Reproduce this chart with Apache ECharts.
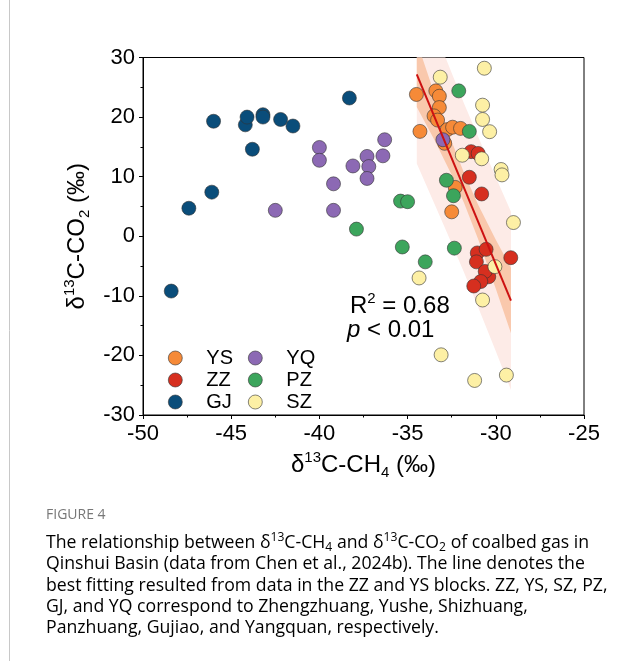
<!DOCTYPE html>
<html><head><meta charset="utf-8">
<script src="https://cdn.jsdelivr.net/npm/echarts@6/dist/echarts.min.js"></script>
<style>html,body{margin:0;padding:0;background:#fff}#c{width:641px;height:661px}</style>
</head><body><div id="c"></div>
<script>
// ---- data ----
const YS = [[-34.5,23.8],[-33.4,24.4],[-33.2,23.5],[-33.2,21.6],[-33.5,20.2],[-33.3,19.5],[-34.3,17.6],[-32.75,17.9],[-32.45,18.3],[-32.0,18.1],[-32.9,15.6],[-32.3,8.2],[-32.5,4.1]];
const ZZ = [[-31.4,14.2],[-31.0,13.9],[-31.5,9.9],[-30.8,7.1],[-31.05,-2.8],[-30.55,-2.2],[-31.1,-4.3],[-29.15,-3.6],[-30.4,-6.8],[-30.6,-5.9],[-30.85,-7.6],[-31.25,-8.35]];
const GJ = [[-48.4,-9.2],[-47.4,4.7],[-46.1,7.4],[-46.0,19.3],[-44.2,18.7],[-44.1,20.0],[-43.8,14.6],[-43.2,20.4],[-43.2,20.0],[-42.2,19.6],[-41.5,18.5],[-38.3,23.2]];
const YQ = [[-40.0,14.9],[-40.0,12.75],[-39.2,8.8],[-39.2,4.35],[-42.5,4.35],[-38.1,11.8],[-37.3,13.4],[-37.2,11.7],[-37.3,9.7],[-36.3,16.2],[-36.4,13.5],[-33.0,16.2]];
const PZ = [[-37.9,1.2],[-32.1,24.4],[-31.5,17.6],[-32.8,9.4],[-32.4,6.8],[-35.4,5.9],[-35.0,5.8],[-35.3,-1.8],[-34.0,-4.3],[-32.35,-2.0]];
const SZ = [[-30.65,28.2],[-33.15,26.7],[-30.75,22.0],[-30.75,19.6],[-30.35,17.55],[-31.9,13.6],[-30.8,13.0],[-29.7,11.2],[-29.65,10.3],[-29.0,2.3],[-30.05,-5.1],[-34.35,-7.0],[-30.75,-10.7],[-33.1,-19.9],[-31.2,-24.2],[-29.4,-23.3]];
const fitX = [-34.48, -29.14];
const fitY = [27.18, -10.82];
const bandX    = [-34.48, -33.5, -32.5, -31.8, -31.0, -30.0, -29.14];
const confLow  = [21.7, 16.3, 10.3, 5.6, -0.5, -8.8, -16.3];
const confHigh = [32.7, 24.1, 15.9, 10.6, 5.3, -0.6, -5.3];
const predLow  = [12.2, 5.6, -1.2, -6.1, -11.9, -19.3, -25.8];
const predHigh = [42.2, 34.8, 27.4, 22.3, 16.7, 9.9, 4.1];
const groupNames = ['YS','ZZ','GJ','YQ','PZ','SZ'];
const xTicks = {min:-50, max:-25, step:5};
const yTicks = {min:-30, max:30, step:10};

// ---- styling ----
const colors = {YS:'#F68A38', ZZ:'#D62F1F', GJ:'#0A4D7A', YQ:'#8C69B4', PZ:'#3CA55C', SZ:'#FDF0A5'};
const groups = {YS, ZZ, GJ, YQ, PZ, SZ};
const FF = 'Liberation Sans, Arial, sans-serif';
const CF = 'Open Sans, Lato, sans-serif';

const chart = echarts.init(document.getElementById('c'), null, {renderer:'canvas'});

function band(low, high, color) {
  return {
    type:'custom', clip:true, z:1, silent:true,
    data:[[bandX[0], low[0]]],
    renderItem:(params, api) => {
      const pts = [];
      for (let i=0;i<bandX.length;i++) pts.push(api.coord([bandX[i], high[i]]));
      for (let i=bandX.length-1;i>=0;i--) pts.push(api.coord([bandX[i], low[i]]));
      return {type:'polygon', shape:{points:pts}, style:{fill:color}};
    }
  };
}

const richAxis = {
  m:{fontSize:24, fontFamily:FF, color:'#000', lineHeight:30},
  sup:{fontSize:15, fontFamily:FF, color:'#000', lineHeight:21.5, verticalAlign:'top'},
  sub:{fontSize:15, fontFamily:FF, color:'#000', lineHeight:4, verticalAlign:'bottom'}
};

const markerStyle = n => ({color:colors[n], borderColor:'#333', borderWidth:0.6, opacity:1});

const scatterSeries = groupNames.map(n => ({
  name:n, type:'scatter', z:2, data:groups[n], symbol:'circle', symbolSize:14,
  itemStyle:markerStyle(n),
  emphasis:{disabled:true}
}));

const legendCommon = {
  orient:'vertical', itemWidth:14, itemHeight:14, itemGap:2,
  textStyle:{fontSize:20, fontFamily:FF, color:'#000', lineHeight:20, padding:[0,0,0,19]},
  selectedMode:false
};
const legendData = names => names.map(n => ({name:n, icon:'circle', itemStyle:markerStyle(n)}));

const capT = {fontSize:17.5, fontFamily:CF, color:'#666', lineHeight:22};
const capSup = {fontSize:12, fontFamily:CF, color:'#666', lineHeight:16, verticalAlign:'top'};
const capSub = {fontSize:12, fontFamily:CF, color:'#666', lineHeight:6, verticalAlign:'bottom'};
const capLines = [
  '{t|The relationship between δ}{sup|13}{t|C-CH}{sub|4}{t| and δ}{sup|13}{t|C-CO}{sub|2}{t| of coalbed gas in}',
  '{t|Qinshui Basin (data from }{l|Chen et al., 2024b}{t|). The line denotes the}',
  '{t|best fitting resulted from data in the ZZ and YS blocks. ZZ, YS, SZ, PZ,}',
  '{t|GJ, and YQ correspond to Zhengzhuang, Yushe, Shizhuang,}',
  '{t|Panzhuang, Gujiao, and Yangquan, respectively.}'
];

const graphics = [
  {type:'line', shape:{x1:9.5,y1:0,x2:9.5,y2:661}, style:{stroke:'#c8c8c8', lineWidth:1}, silent:true},
  {type:'text', x:350, y:291, z:10, style:{text:'{a|R}{s|2}{a| = 0.68}', verticalAlign:'top',
    rich:{a:{fontSize:24,fontFamily:FF,color:'#000',lineHeight:30}, s:{fontSize:15,fontFamily:FF,color:'#000',lineHeight:21.5,verticalAlign:'top'}}}},
  {type:'text', x:347, y:315, z:10, style:{text:'{i|p}{a| < 0.01}', verticalAlign:'top',
    rich:{a:{fontSize:24,fontFamily:FF,color:'#000',lineHeight:30}, i:{fontSize:24,fontFamily:FF,fontStyle:'italic',color:'#000',lineHeight:30}}}},
  {type:'text', x:46, y:515, style:{text:'FIGURE 4', fontSize:14, fontFamily:CF, fill:'#777', verticalAlign:'middle'}}
];
capLines.forEach((s,i) => graphics.push({type:'text', x:46, y:543 + i*21.3, scaleX:1.01, style:{text:s, verticalAlign:'middle',
  rich:{t:capT, sup:capSup, sub:capSub, l:Object.assign({}, capT, {color:'#27A8C0'})}}}));

const axisCommon = {
  axisLine:{onZero:false, lineStyle:{color:'#000', width:1}},
  axisTick:{inside:false, length:4, lineStyle:{color:'#000'}},
  minorTick:{show:true, splitNumber:2, length:2.5, lineStyle:{color:'#000'}},
  axisLabel:{fontSize:22, fontFamily:FF, color:'#000', margin:8},
  splitLine:{show:false}, minorSplitLine:{show:false},
  nameLocation:'middle', nameTextStyle:{rich:richAxis}
};

chart.setOption({
  animation:false,
  backgroundColor:'#fff',
  grid:{left:143, top:57.5, right:57, bottom:246, show:true, borderColor:'#000', borderWidth:1, containLabel:false},
  xAxis:Object.assign({type:'value', min:xTicks.min, max:xTicks.max, interval:xTicks.step,
    name:'{m|δ}{sup|13}{m|C-CH}{sub|4}{m| (‰)}', nameGap:30}, axisCommon),
  yAxis:Object.assign({type:'value', min:yTicks.min, max:yTicks.max, interval:yTicks.step,
    name:'{m|δ}{sup|13}{m|C-CO}{sub|2}{m| (‰)}', nameGap:45}, axisCommon),
  legend:[
    Object.assign({left:163, top:343, data:legendData(['YS','ZZ','GJ'])}, legendCommon),
    Object.assign({left:243, top:343, data:legendData(['YQ','PZ','SZ'])}, legendCommon)
  ],
  graphic:graphics,
  series:[
    band(predLow, predHigh, '#FDEBE7'),
    band(confLow, confHigh, '#F9C8AC'),
    ...scatterSeries,
    {type:'line', z:5, data:fitX.map((x,i)=>[x, fitY[i]]), symbol:'none', silent:true,
      lineStyle:{color:'#CC1111', width:2}}
  ]
});
</script></body></html>
